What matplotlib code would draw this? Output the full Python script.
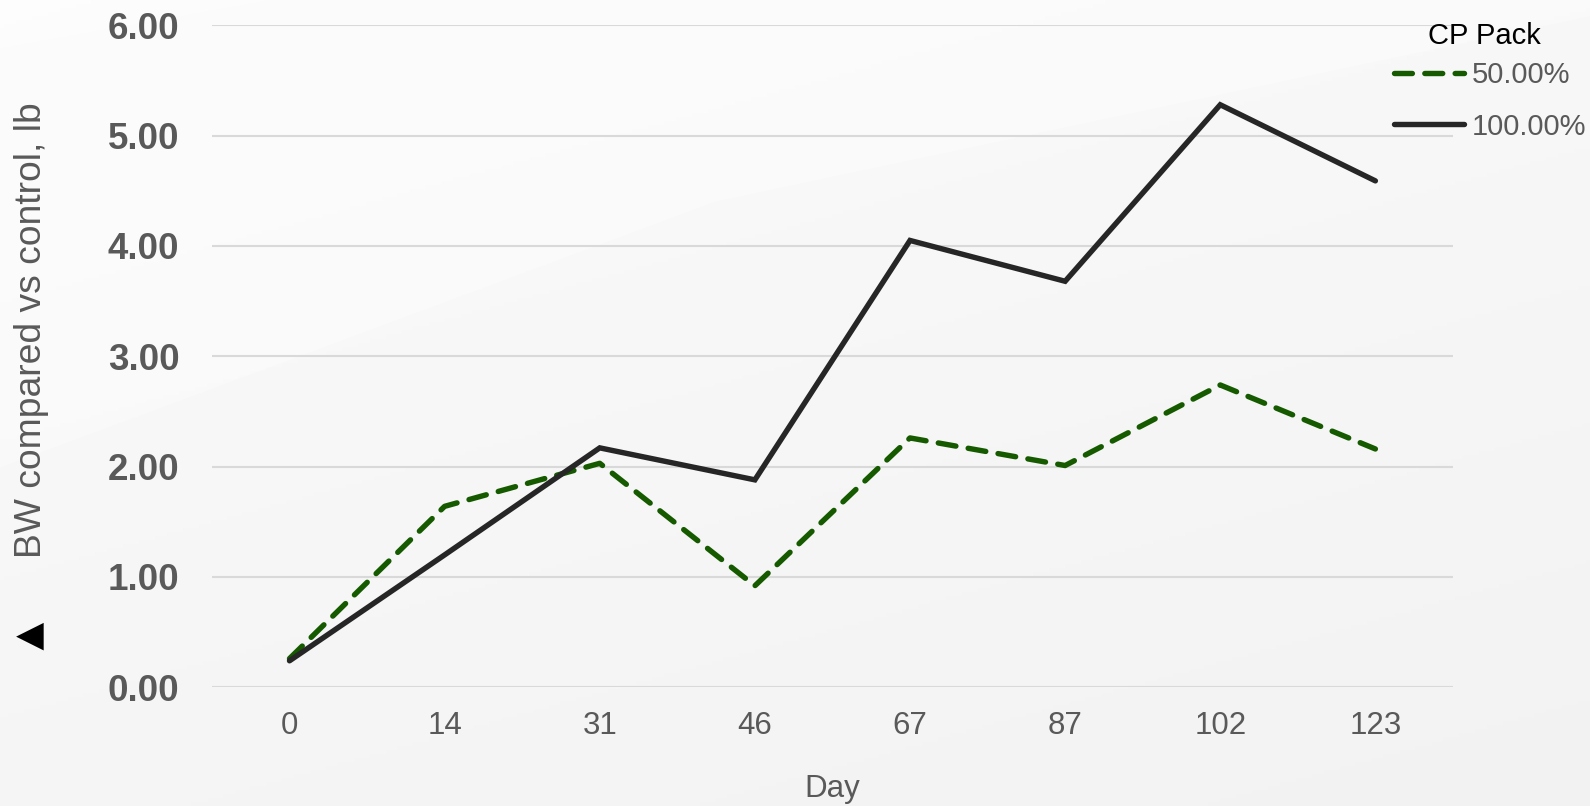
import numpy as np
import matplotlib.pyplot as plt
from matplotlib.patches import Polygon

plt.rcParams['font.family'] = ['Liberation Sans', 'DejaVu Sans']

days = ['0', '14', '31', '46', '67', '87', '102', '123']
pack_50 = [0.26, 1.64, 2.03, 0.92, 2.26, 2.01, 2.74, 2.16]
pack_100 = [0.24, 1.20, 2.17, 1.88, 4.05, 3.68, 5.28, 4.59]
yticks = [0, 1, 2, 3, 4, 5, 6]

fig = plt.figure(figsize=(15.9, 8.06), dpi=100)

# soft grey backdrop with a lighter diagonal band top-left
bg = fig.add_axes([0, 0, 1, 1], zorder=-10)
yy, xx = np.mgrid[0:1:200j, 0:1:400j]
shade = 0.985 - 0.035 * (0.65 * yy + 0.35 * xx)
bg.imshow(np.dstack([shade] * 3), extent=[0, 1, 0, 1], aspect='auto', origin='upper')
bg.add_patch(Polygon([[0, 1], [0.17, 1], [0.0, 0.94]], closed=True,
                     color='white', alpha=0.5, lw=0))
bg.add_patch(Polygon([[0, 0.42], [0.45, 0.75], [1.0, 0.98], [1.0, 1.0],
                      [0.17, 1.0], [0.0, 0.94]], closed=True,
                     color='white', alpha=0.35, lw=0))
bg.set_xlim(0, 1)
bg.set_ylim(0, 1)
bg.axis('off')

ax = fig.add_axes([0.1333, 0.1473, 0.7805, 0.8213])
ax.set_facecolor('none')
x = np.arange(len(days))

ax.plot(x, pack_50, color='#165a00', lw=3.9, linestyle=(0, (3.3, 2.3)),
        dash_capstyle='round', solid_joinstyle='round', label='50.00%', zorder=3)
ax.plot(x, pack_100, color='#262626', lw=3.9, solid_capstyle='round',
        solid_joinstyle='miter', label='100.00%', zorder=3)

ax.set_xlim(-0.5, len(days) - 0.5)
ax.set_ylim(0, 6)
ax.set_yticks(yticks)
ax.set_yticklabels([f'{v:.2f}' for v in yticks], fontsize=26.5,
                   fontweight='bold', color='#595959')
ax.set_xticks(x)
ax.set_xticklabels(days, fontsize=22.5, color='#595959')
ax.tick_params(axis='y', length=0, pad=23.5)
ax.tick_params(axis='x', length=0, pad=17)
ax.grid(axis='y', color='#d9d9d9', lw=1.5)
ax.set_axisbelow(True)
for s in ax.spines.values():
    s.set_visible(False)

ax.set_xlabel('Day', fontsize=22.5, color='#595959', labelpad=24)
fig.text(0.0195, 0.59, 'BW compared vs control, lb', rotation=90,
         fontsize=26.8, color='#595959', ha='center', va='center')
fig.text(0.019, 0.211, '\u25c0', fontsize=26, color='black',
         ha='center', va='center', family=['DejaVu Sans'])

leg = ax.legend(loc='center left', bbox_to_anchor=(0.943, 0.8857),
                frameon=False, fontsize=21,
                handlelength=2.4, handletextpad=0.28, labelspacing=0.8,
                borderaxespad=0)
for t in leg.get_texts():
    t.set_color('#595959')
fig.text(0.9335, 0.955, 'CP Pack', fontsize=21, color='black',
         ha='center', va='center')

fig.savefig('out.png', dpi=100)
